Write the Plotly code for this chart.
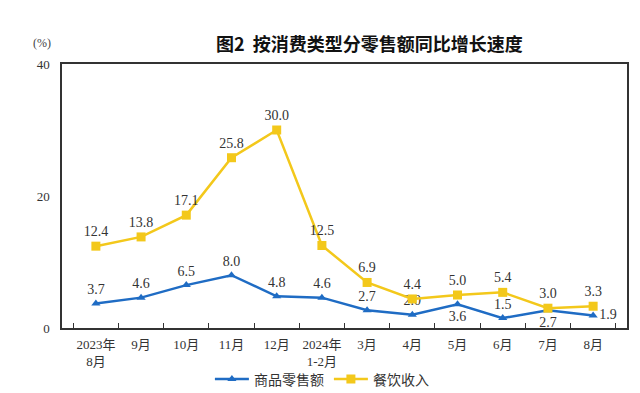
import plotly.graph_objects as go

categories = ["2023年<br>8月", "9月", "10月", "11月", "12月", "2024年<br>1-2月",
              "3月", "4月", "5月", "6月", "7月", "8月"]
goods = [3.7, 4.6, 6.5, 8.0, 4.8, 4.6, 2.7, 2.0, 3.6, 1.5, 2.7, 1.9]
catering = [12.4, 13.8, 17.1, 25.8, 30.0, 12.5, 6.9, 4.4, 5.0, 5.4, 3.0, 3.3]
goods_pos = ["top center"] * 8 + ["bottom center", "top center", "bottom center", "middle right"]

blue = "#1f6cc4"
yellow = "#f3c81b"
num_font = dict(family="Liberation Serif, Noto Sans CJK SC", size=14, color="#333333")

fig = go.Figure()
fig.add_trace(go.Scatter(
    x=categories, y=goods, name="商品零售额", mode="lines+markers+text",
    line=dict(color=blue, width=2.5),
    marker=dict(symbol="triangle-up", size=8, color=blue),
    text=[f"{v:.1f}" for v in goods], textposition=goods_pos,
    textfont=num_font, cliponaxis=False,
))
fig.add_trace(go.Scatter(
    x=categories, y=catering, name="餐饮收入", mode="lines+markers+text",
    line=dict(color=yellow, width=2.5),
    marker=dict(symbol="square", size=9, color=yellow),
    text=[f"{v:.1f}" for v in catering], textposition="top center",
    textfont=num_font, cliponaxis=False,
))

fig.update_layout(
    width=632, height=385,
    margin=dict(l=54, r=13, t=56, b=65, autoexpand=False),
    paper_bgcolor="white", plot_bgcolor="white",
    showlegend=True,
    legend=dict(orientation="h", x=0.46, xanchor="center", y=-0.195, yanchor="middle",
                bgcolor="rgba(0,0,0,0)",
                font=dict(family="Noto Sans CJK SC", size=14, color="#333333"),
                itemwidth=34, traceorder="normal", tracegroupgap=0),
    annotations=[
        dict(text="图2  按消费类型分零售额同比增长速度", xref="paper", yref="paper",
             x=0.545, y=1.0, yshift=21, showarrow=False, xanchor="center", yanchor="middle",
             font=dict(family="Noto Sans CJK SC", size=18, color="#111111", weight=600)),
        dict(text="(%)", xref="paper", yref="paper", x=-0.035, y=1.0, yshift=21,
             showarrow=False, xanchor="center", yanchor="middle",
             font=dict(family="Liberation Serif", size=12, color="#444444")),
    ],
)
fig.update_xaxes(
    type="category", showline=True, linecolor="#333333", linewidth=1.5, mirror=True,
    ticks="inside", tickson="boundaries", ticklen=5, tickcolor="#333333",
    showgrid=False, automargin=False, tickangle=0, ticklabelstandoff=4,
    tickfont=dict(family="Liberation Serif, Noto Sans CJK SC", size=13, color="#333333"),
)
fig.update_yaxes(
    range=[0, 40], tickvals=[0, 20, 40], showline=True, linecolor="#333333",
    linewidth=1.5, mirror=True, ticks="", showgrid=False, zeroline=False, automargin=False,
    ticklabelstandoff=8,
    tickfont=dict(family="Liberation Serif", size=13, color="#333333"),
)

fig.write_html("out.html")
